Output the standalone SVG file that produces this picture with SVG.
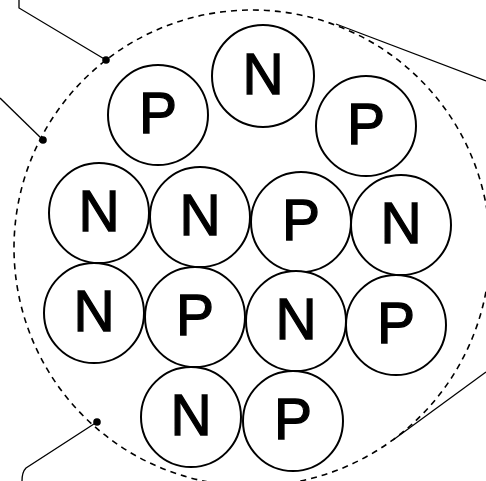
<svg xmlns="http://www.w3.org/2000/svg" width="486" height="481" viewBox="0 0 486 481">
<style>
.ball{fill:#fff;stroke:#000;stroke-width:2}
.lbl{font-family:"Liberation Sans",Arial,sans-serif;font-size:57px;text-anchor:middle;fill:#000;stroke:#000;stroke-width:1.3}
.lead{fill:none;stroke:#000;stroke-width:1.3}
.dot{fill:#000}
.boundary{fill:none;stroke:#000;stroke-width:1.6;stroke-dasharray:6 5}
</style>
<rect width="486" height="481" fill="#fff"/>
<circle class="boundary" cx="252" cy="248" r="238"/>
<g id="connectors">
<polyline class="lead" points="19,0 19,8 106,60"/>
<circle class="dot" cx="106" cy="60" r="3.8"/>
<line class="lead" x1="0" y1="98" x2="43" y2="140"/>
<circle class="dot" cx="43" cy="140" r="3.8"/>
<path class="lead" d="M97,422 L26,468 Q22,472 22,481"/>
<circle class="dot" cx="97" cy="422" r="3.8"/>
<line class="lead" x1="336" y1="24" x2="486" y2="81"/>
<line class="lead" x1="393" y1="440" x2="486" y2="372"/>
</g>
<g id="n1"><circle class="ball" cx="158" cy="115" r="50"/><text class="lbl" x="158" y="133">P</text></g>
<g id="n2"><circle class="ball" cx="263" cy="76" r="51"/><text class="lbl" x="263" y="94">N</text></g>
<g id="n3"><circle class="ball" cx="366" cy="126" r="50"/><text class="lbl" x="366" y="144">P</text></g>
<g id="n4"><circle class="ball" cx="99" cy="213" r="50"/><text class="lbl" x="99" y="231">N</text></g>
<g id="n5"><circle class="ball" cx="200" cy="217" r="50"/><text class="lbl" x="200" y="235">N</text></g>
<g id="n6"><circle class="ball" cx="301" cy="222" r="50"/><text class="lbl" x="301" y="240">P</text></g>
<g id="n7"><circle class="ball" cx="401" cy="225" r="50"/><text class="lbl" x="401" y="243">N</text></g>
<g id="n8"><circle class="ball" cx="94" cy="313" r="50"/><text class="lbl" x="94" y="331">N</text></g>
<g id="n9"><circle class="ball" cx="195" cy="317" r="50"/><text class="lbl" x="195" y="335">P</text></g>
<g id="n10"><circle class="ball" cx="296" cy="321" r="50"/><text class="lbl" x="296" y="339">N</text></g>
<g id="n11"><circle class="ball" cx="396" cy="325" r="50"/><text class="lbl" x="396" y="343">P</text></g>
<g id="n12"><circle class="ball" cx="191" cy="417" r="50"/><text class="lbl" x="191" y="435">N</text></g>
<g id="n13"><circle class="ball" cx="293" cy="421" r="50"/><text class="lbl" x="293" y="439">P</text></g>
</svg>
